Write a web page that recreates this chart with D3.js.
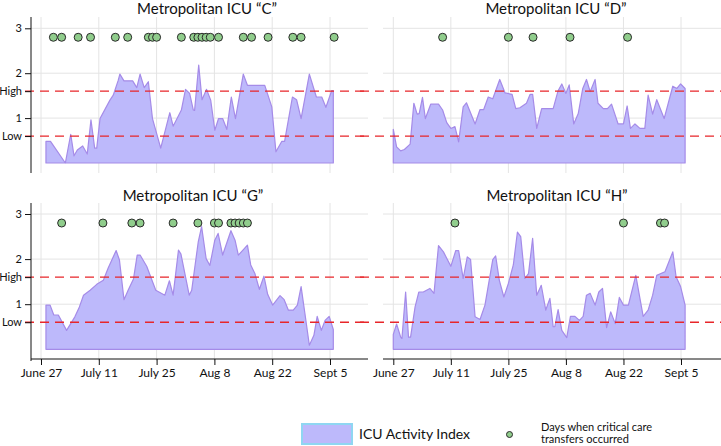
<!DOCTYPE html>
<html><head><meta charset="utf-8">
<script src="https://cdn.jsdelivr.net/npm/d3@7"></script>
<style>body{margin:0;background:#fff}svg{display:block;font-family:Lato,"Open Sans",sans-serif}</style>
</head><body><svg id="c" width="721" height="446"></svg>
<script>
// ---- data (day offset from June 27) ----
const xTickDays = [0, 14, 28, 42, 56, 70];
const xTickLabels = ["June 27", "July 11", "July 25", "Aug 8", "Aug 22", "Sept 5"];
const yTickValues = [3, 2, 1.6, 1, 0.6];
const yTickLabels = ["3", "2", "High", "1", "Low"];
const highLevel = 1.6, lowLevel = 0.6, transferLevel = 2.8;

const cDays = [1.2,2.3,5.9,7.2,8,8.8,10.1,11.2,12.1,13,13.5,14.3,16.7,17.5,18.7,19.1,20.1,22.2,23.2,24,25,26,27,28,29,31.2,32,34,35,36,36.9,37.2,38.2,39,40.1,41.1,42.1,43,44,45,46.1,47.1,49,50,54.2,55.9,56.9,58.3,59,60.9,61.9,63,65,66.7,68,69,70.4,70.8];
const cVals = [0.48,0.48,0,0.64,0.16,0.29,0.38,0.2,0.96,0.33,0.33,0.99,1.4,1.51,1.84,1.98,1.83,1.83,1.68,1.98,1.68,1.81,0.99,0.66,0.33,1.12,0.82,1.18,1.64,1.55,1.18,1.17,2.18,1.41,1.64,1.4,0.73,0.99,0.99,0.75,1.47,0.99,1.98,1.73,1.73,1.25,0.25,0.48,0.48,1.47,1.41,0.99,1.98,1.47,1.47,1.24,1.61,1.61];
const cTransfers = [3,5,9,12,18,21,26,27,28,34,37,38,39,40,41,43,49,51,55,61,63,71];

const dDays = [0,0.8,1.8,2.7,4.1,5,5.8,6.3,7.1,7.8,9.1,11,12,13,14,15,15.9,17,17.8,19.9,21.1,22,23.1,24.2,25.9,27.2,28.9,29.8,30.8,32.4,33.3,33.9,34.9,36.1,38.9,40.1,41,42,42.8,43.9,45,46.1,47,47.9,49.1,49.8,51.1,52.1,53.1,54.7,56,56.9,57.7,58.8,60,61.2,62,63.1,64.1,65.9,68,69,69.9,71];
const dVals = [0.75,0.36,0.27,0.3,0.42,1.33,1.09,1.1,1.46,0.99,1.31,1.31,1.18,0.9,0.77,0.81,0.47,1.25,1.34,0.87,1.19,1.19,1.47,1.43,1.86,1.56,1.53,1.21,1.23,1.33,1.53,1.53,0.77,1.21,1.21,1.61,1.76,1.55,1.74,0.87,1.1,1.66,1.86,1.59,1.86,1.33,1.21,1.21,1.31,0.87,0.87,1.27,0.77,0.87,0.77,0.77,1.51,1.09,1.41,0.99,1.71,1.66,1.76,1.66];
const dTransfers = [12,28,34,43,57];

const gDays = [1.2,2.2,3.1,4.2,6.2,8.2,9.3,10.3,11.9,13.5,15.1,16.3,18.2,19,20.1,21.1,22.4,23.3,24,25.6,27.8,30,31.1,32,33.3,33.9,35.9,36.5,38.1,38.9,40,40.9,42.1,42.9,44,46,47,47.8,48.8,50,50.8,51.8,52.9,54,54.9,56.1,57.9,58.9,59.9,61.1,62.1,63,63.9,65,66.1,66.9,67.9,68.8,69.8,70.8];
const gVals = [0.98,0.98,0.76,0.76,0.42,0.72,0.94,1.2,1.31,1.44,1.53,1.81,2.19,1.98,1.1,1.31,1.56,2.09,2.09,1.84,1.31,1.2,1.52,1.2,2.2,2.11,1.2,1.31,2.39,2.72,2.01,1.86,2.42,2.57,2.09,2.63,2.42,2.09,2.19,2.31,1.87,1.68,1.33,1.62,1.22,0.98,1.19,1.1,0.87,0.87,0.98,1.39,0.81,0.09,0.31,0.73,0.42,0.64,0.73,0.44];
const gTransfers = [5,15,22,24,32,38,42,43,46,47,48,49,50];

const hDays = [0,0.8,1.8,2.1,3,3.7,4.2,5.3,6.2,7.3,8.9,9.9,11,12.2,14,15.2,15.9,17,18,18.8,19.9,21.1,22.3,24.2,24.9,25.8,26.9,28,29.2,30.2,31,32,32.9,33.9,34.9,36,37.1,38.1,38.9,39.3,40.1,41,42.2,43.1,44.2,45.3,46.2,47,47.9,49.1,50,50.9,51.9,52.9,54,55,56,57.2,59,60.8,62,63.1,64.1,66.1,68,68.8,69.9,71];
const hVals = [0.33,0.56,0.27,0.24,1.27,0.27,0.27,0.94,1.27,1.27,1.35,1.24,2.3,2.16,1.84,2.19,2.19,1.57,2.05,1.99,0.72,0.66,0.98,1.99,2.07,1.53,1.16,1.46,1.87,2.6,2.5,1.57,1.68,2.46,1.2,1.42,0.87,1.13,0.5,0.5,0.88,0.42,0.26,0.73,0.73,0.64,0.73,1.2,1.24,0.98,1.27,1.35,0.48,0.83,0.57,1.15,0.98,0.98,1.64,0.73,0.87,1.2,1.64,1.72,2.16,1.61,1.39,0.98];
const hTransfers = [15,56,65,66];

const panels = [
  {title:"Metropolitan ICU \u201cC\u201d", days:cDays, vals:cVals, tr:cTransfers, col:0, row:0, tx:207},
  {title:"Metropolitan ICU \u201cD\u201d", days:dDays, vals:dVals, tr:dTransfers, col:1, row:0, tx:556},
  {title:"Metropolitan ICU \u201cG\u201d", days:gDays, vals:gVals, tr:gTransfers, col:0, row:1, tx:193},
  {title:"Metropolitan ICU \u201cH\u201d", days:hDays, vals:hVals, tr:hTransfers, col:1, row:1, tx:557}
];

const svg = d3.select("#c");
const FILL = "#bdb9fb", STROKE = "#a58be8", GRID = "#e4e4e4", RED = "#e8262a";

const colCfg = [
  {left:31, right:368, x0:41, x70:330},
  {left:383, right:721, x0:393.3, x70:681}
];
const rowCfg = [
  {top:17, bottom:173, y0:163, y3:28.3, titleY:13.5},
  {top:203, bottom:361, y0:349.3, y3:214, titleY:200.5}
];

panels.forEach(p => {
  const cc = colCfg[p.col], rc = rowCfg[p.row];
  const x = d3.scaleLinear().domain([0, 70]).range([cc.x0, cc.x70]);
  const y = d3.scaleLinear().domain([0, 3]).range([rc.y0, rc.y3]);
  const g = svg.append("g");

  // vertical gridlines
  g.selectAll(".vg").data(xTickDays).join("line")
    .attr("x1", d => x(d)).attr("x2", d => x(d))
    .attr("y1", rc.top).attr("y2", rc.bottom)
    .attr("stroke", GRID).attr("stroke-width", 1);
  // horizontal gridlines
  g.selectAll(".hg").data([3, 2, 1]).join("line")
    .attr("x1", cc.left).attr("x2", cc.right)
    .attr("y1", d => y(d)).attr("y2", d => y(d))
    .attr("stroke", GRID).attr("stroke-width", 1);

  // area
  const pts = p.days.map((d, i) => [d, p.vals[i]]);
  const area = d3.area().x(d => x(d[0])).y0(y(0)).y1(d => y(d[1]));
  g.append("path").datum(pts).attr("d", area)
    .attr("fill", FILL).attr("stroke", STROKE).attr("stroke-width", 1.2)
    .attr("stroke-linejoin", "round");

  // threshold lines
  g.selectAll(".th").data([highLevel, lowLevel]).join("line")
    .attr("x1", p.col === 0 ? cc.left - 6 : cc.left - 23).attr("x2", cc.right)
    .attr("y1", d => y(d)).attr("y2", d => y(d))
    .attr("stroke", RED).attr("stroke-width", 1.3).attr("stroke-dasharray", "9,6");

  // transfers
  g.selectAll(".tr").data(p.tr).join("circle")
    .attr("cx", d => x(d)).attr("cy", y(transferLevel)).attr("r", 4)
    .attr("fill", "#90cd8c").attr("stroke", "#2a2a2a").attr("stroke-width", 1);

  // y axis (left column only)
  if (p.col === 0) {
    const ya = d3.axisLeft(y).tickValues(yTickValues)
      .tickFormat((d, i) => yTickLabels[i]).tickSize(6).tickPadding(3);
    const ag = svg.append("g").attr("transform", `translate(${cc.left},0)`).call(ya);
    ag.select(".domain").attr("d", `M0,${rc.top}V${rc.bottom}`).attr("stroke", "#111");
    ag.selectAll(".tick line").attr("stroke", "#111");
    ag.selectAll("text").attr("font-size", 11).attr("fill", "#111").attr("font-family", "Lato");
  }
  // x axis (bottom row only)
  if (p.row === 1) {
    const xa = d3.axisBottom(x).tickValues(xTickDays)
      .tickFormat((d, i) => xTickLabels[i]).tickSize(6).tickPadding(3);
    const ag = svg.append("g").attr("transform", `translate(0,${rc.bottom - 2})`).call(xa);
    ag.select(".domain").attr("d", `M${cc.left},0H${cc.right}`).attr("stroke", "#111");
    ag.selectAll(".tick line").attr("stroke", "#111");
    ag.selectAll("text").attr("font-size", 12).attr("fill", "#111").attr("font-family", "Lato");
  }

  // title
  svg.append("text").attr("x", p.tx).attr("y", rc.titleY)
    .attr("text-anchor", "middle").attr("font-size", 15).attr("fill", "#111")
    .text(p.title);
});

// legend
const lg = svg.append("g");
lg.append("rect").attr("x", 302).attr("y", 424).attr("width", 50).attr("height", 20)
  .attr("fill", FILL).attr("stroke", "#8fd6f2").attr("stroke-width", 2);
lg.append("text").attr("x", 359).attr("y", 439).attr("font-size", 14).attr("fill", "#111")
  .text("ICU Activity Index");
lg.append("circle").attr("cx", 509.5).attr("cy", 434.5).attr("r", 3)
  .attr("fill", "#90cd8c").attr("stroke", "#2a2a2a").attr("stroke-width", 1);
lg.append("text").attr("x", 541).attr("y", 430.5).attr("font-size", 11).attr("fill", "#111")
  .text("Days when critical care");
lg.append("text").attr("x", 541).attr("y", 443).attr("font-size", 11).attr("fill", "#111")
  .text("transfers occurred");
</script></body></html>
